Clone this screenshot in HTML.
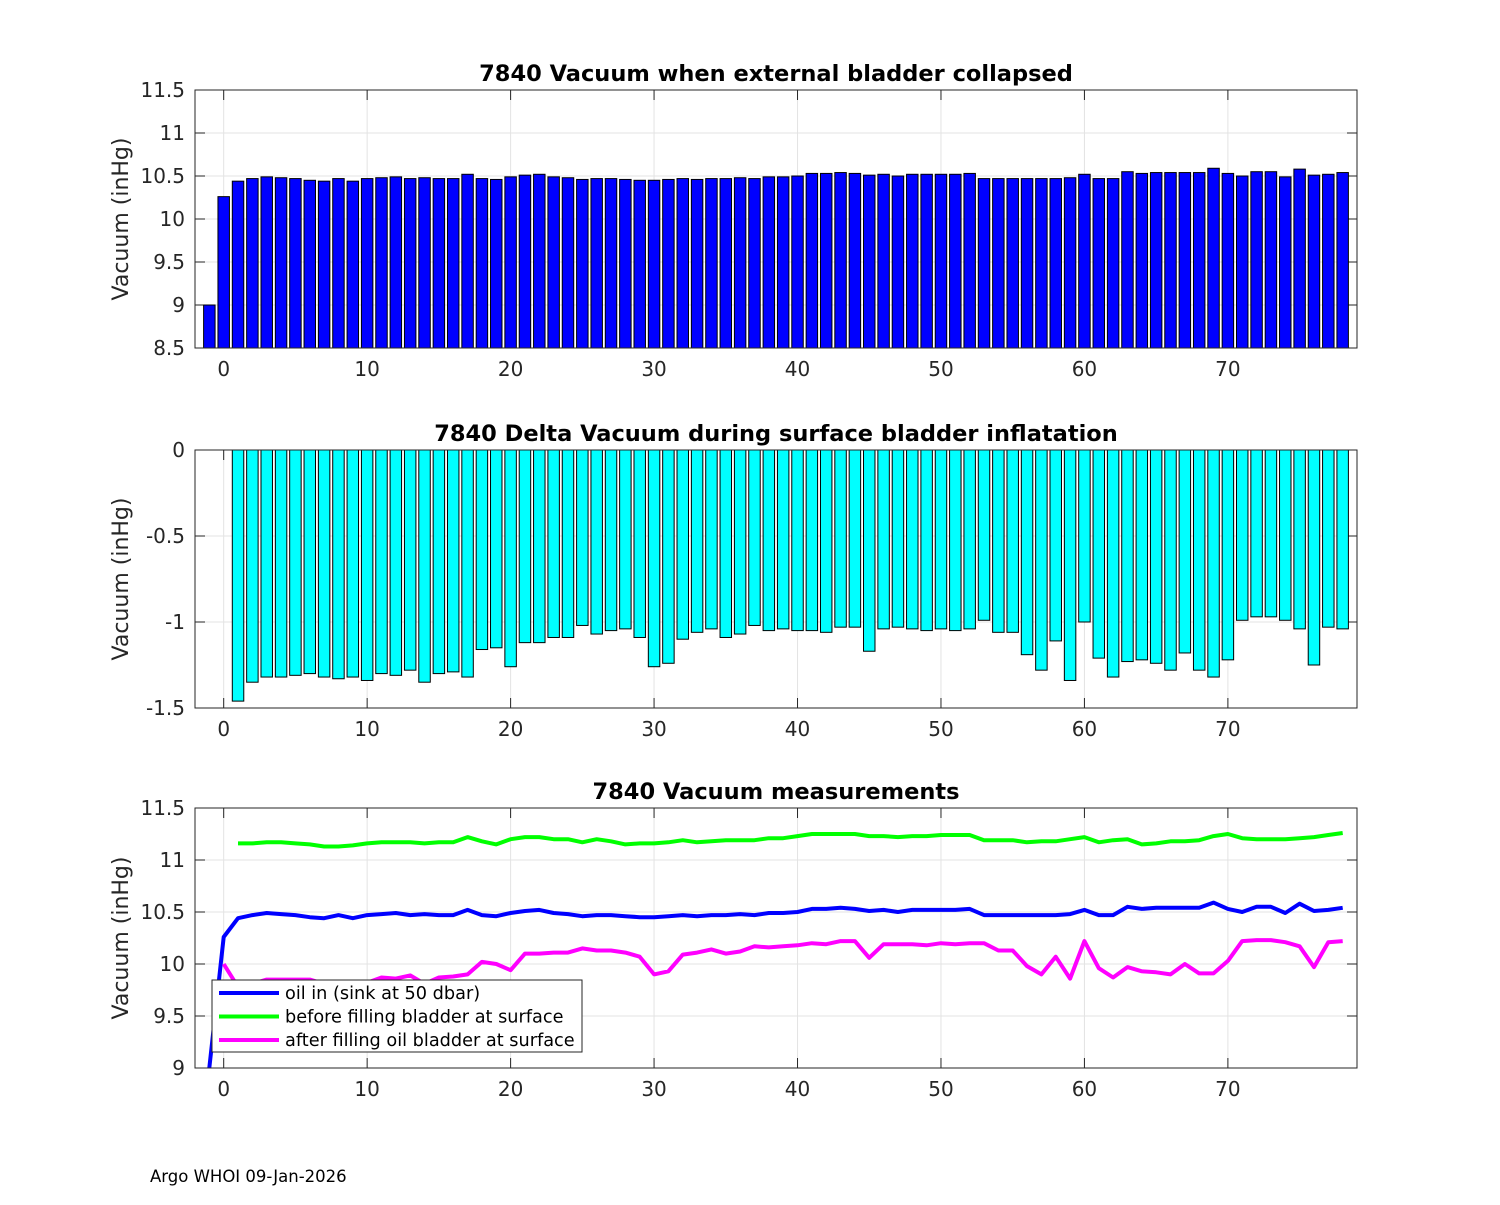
<!DOCTYPE html>
<html><head><meta charset="utf-8"><style>
body{margin:0;background:#fff;}
svg text{font-family:"DejaVu Sans","Liberation Sans",sans-serif;}
</style></head><body>
<svg id="fig" width="1500" height="1200" xmlns="http://www.w3.org/2000/svg">
<rect width="1500" height="1200" fill="#fff"/>
<defs>
<clipPath id="c1"><rect x="195" y="90" width="1162" height="258"/></clipPath>
<clipPath id="c2"><rect x="195" y="450" width="1162" height="258"/></clipPath>
<clipPath id="c3"><rect x="195" y="808" width="1162" height="260"/></clipPath>
</defs>
<text x="150" y="1182" font-size="16.5" fill="#000">Argo WHOI 09-Jan-2026</text>
</svg>
<script>
const xTicks = [0,10,20,30,40,50,60,70];
const vacIdx = [-1,0,1,2,3,4,5,6,7,8,9,10,11,12,13,14,15,16,17,18,19,20,21,22,23,24,25,26,27,28,29,30,31,32,33,34,35,36,37,38,39,40,41,42,43,44,45,46,47,48,49,50,51,52,53,54,55,56,57,58,59,60,61,62,63,64,65,66,67,68,69,70,71,72,73,74,75,76,77,78];
const vacVals = [9.0,10.26,10.44,10.47,10.49,10.48,10.47,10.45,10.44,10.47,10.44,10.47,10.48,10.49,10.47,10.48,10.47,10.47,10.52,10.47,10.46,10.49,10.51,10.52,10.49,10.48,10.46,10.47,10.47,10.46,10.45,10.45,10.46,10.47,10.46,10.47,10.47,10.48,10.47,10.49,10.49,10.5,10.53,10.53,10.54,10.53,10.51,10.52,10.5,10.52,10.52,10.52,10.52,10.53,10.47,10.47,10.47,10.47,10.47,10.47,10.48,10.52,10.47,10.47,10.55,10.53,10.54,10.54,10.54,10.54,10.59,10.53,10.5,10.55,10.55,10.49,10.58,10.51,10.52,10.54];
const dIdx = [1,2,3,4,5,6,7,8,9,10,11,12,13,14,15,16,17,18,19,20,21,22,23,24,25,26,27,28,29,30,31,32,33,34,35,36,37,38,39,40,41,42,43,44,45,46,47,48,49,50,51,52,53,54,55,56,57,58,59,60,61,62,63,64,65,66,67,68,69,70,71,72,73,74,75,76,77,78];
const dVals = [-1.46,-1.35,-1.32,-1.32,-1.31,-1.30,-1.32,-1.33,-1.32,-1.34,-1.30,-1.31,-1.28,-1.35,-1.30,-1.29,-1.32,-1.16,-1.15,-1.26,-1.12,-1.12,-1.09,-1.09,-1.02,-1.07,-1.05,-1.04,-1.09,-1.26,-1.24,-1.10,-1.06,-1.04,-1.09,-1.07,-1.02,-1.05,-1.04,-1.05,-1.05,-1.06,-1.03,-1.03,-1.17,-1.04,-1.03,-1.04,-1.05,-1.04,-1.05,-1.04,-0.99,-1.06,-1.06,-1.19,-1.28,-1.11,-1.34,-1.00,-1.21,-1.32,-1.23,-1.22,-1.24,-1.28,-1.18,-1.28,-1.32,-1.22,-0.99,-0.97,-0.97,-0.99,-1.04,-1.25,-1.03,-1.04];
const beforeVals = [11.16,11.16,11.17,11.17,11.16,11.15,11.13,11.13,11.14,11.16,11.17,11.17,11.17,11.16,11.17,11.17,11.22,11.18,11.15,11.2,11.22,11.22,11.2,11.2,11.17,11.2,11.18,11.15,11.16,11.16,11.17,11.19,11.17,11.18,11.19,11.19,11.19,11.21,11.21,11.23,11.25,11.25,11.25,11.25,11.23,11.23,11.22,11.23,11.23,11.24,11.24,11.24,11.19,11.19,11.19,11.17,11.18,11.18,11.2,11.22,11.17,11.19,11.2,11.15,11.16,11.18,11.18,11.19,11.23,11.25,11.21,11.2,11.2,11.2,11.21,11.22,11.24,11.26];
const afterIdx = [0,1,2,3,4,5,6,7,8,9,10,11,12,13,14,15,16,17,18,19,20,21,22,23,24,25,26,27,28,29,30,31,32,33,34,35,36,37,38,39,40,41,42,43,44,45,46,47,48,49,50,51,52,53,54,55,56,57,58,59,60,61,62,63,64,65,66,67,68,69,70,71,72,73,74,75,76,77,78];
const afterVals = [10.0,9.78,9.81,9.85,9.85,9.85,9.85,9.81,9.80,9.82,9.82,9.87,9.86,9.89,9.81,9.87,9.88,9.90,10.02,10.00,9.94,10.10,10.10,10.11,10.11,10.15,10.13,10.13,10.11,10.07,9.90,9.93,10.09,10.11,10.14,10.10,10.12,10.17,10.16,10.17,10.18,10.20,10.19,10.22,10.22,10.06,10.19,10.19,10.19,10.18,10.20,10.19,10.20,10.20,10.13,10.13,9.98,9.90,10.07,9.86,10.22,9.96,9.87,9.97,9.93,9.92,9.90,10.00,9.91,9.91,10.03,10.22,10.23,10.23,10.21,10.17,9.97,10.21,10.22];
const y1Ticks = [8.5,9,9.5,10,10.5,11,11.5];
const y2Ticks = [-1.5,-1,-0.5,0];
const y3Ticks = [9,9.5,10,10.5,11,11.5];

const NS='http://www.w3.org/2000/svg';
const svg=document.getElementById('fig');
const L=195,R=1357,XMIN=-2,XMAX=79;
const xs=v=>L+(v-XMIN)/(XMAX-XMIN)*(R-L);
function mk(tag,at,parent){const e=document.createElementNS(NS,tag);for(const k in at)e.setAttribute(k,at[k]);(parent||svg).appendChild(e);return e;}
function fmt(v){return String(v);}
function axes(top,bot,ymin,ymax,yT,title,id){
  const ys=v=>bot-(v-ymin)/(ymax-ymin)*(bot-top);
  const g=mk('g',{});
  
  
  mk('rect',{x:L,y:top,width:R-L,height:bot-top,fill:'#fff'},g);
  xTicks.forEach(t=>{const x=xs(t);
    const gl=mk('line',{x1:x,x2:x,y1:top,y2:bot,stroke:'#e3e3e3','stroke-width':1},g);
    
    mk('line',{x1:x,x2:x,y1:bot,y2:bot-10,stroke:'#262626'},g);mk('line',{x1:x,x2:x,y1:top,y2:top+10,stroke:'#262626'},g);
    const tx=mk('text',{x:x,y:bot+28,'font-size':20,'text-anchor':'middle',fill:'#262626'},g);tx.textContent=fmt(t);
    });
  yT.forEach(t=>{const y=ys(t);
    const gl=mk('line',{x1:L,x2:R,y1:y,y2:y,stroke:'#e3e3e3','stroke-width':1},g);
    
    mk('line',{x1:L,x2:L+10,y1:y,y2:y,stroke:'#262626'},g);mk('line',{x1:R,x2:R-10,y1:y,y2:y,stroke:'#262626'},g);
    const tx=mk('text',{x:L-10,y:y+7,'font-size':20,'text-anchor':'end',fill:'#262626'},g);tx.textContent=fmt(t);
    });
  const tt=mk('text',{x:(L+R)/2,y:top-9,'font-size':22.5,'font-weight':'bold','text-anchor':'middle',fill:'#000'},g);tt.textContent=title;
  
  const yl=mk('text',{x:0,y:0,'font-size':22,'text-anchor':'middle',fill:'#262626',transform:`translate(${L-67},${(top+bot)/2}) rotate(-90)`},g);yl.textContent='Vacuum (inHg)';
  
  return {ys,g};
}
function frame(top,bot){const f=mk('rect',{x:L,y:top,width:R-L,height:bot-top,fill:'none',stroke:'#262626','stroke-width':1});
  }
const bw=0.8*(R-L)/(XMAX-XMIN);

const p1=axes(90,348,8.5,11.5,y1Ticks,'7840 Vacuum when external bladder collapsed','collapsed');
const g1=mk('g',{'clip-path':'url(#c1)'});
vacIdx.forEach((i,k)=>{const y=p1.ys(vacVals[k]);
  const b=mk('rect',{x:xs(i)-bw/2,y:y,width:bw,height:348-y,fill:'#0000ff',stroke:'#000','stroke-width':1},g1);
  });
frame(90,348);

const p2=axes(450,708,-1.5,0,y2Ticks,'7840 Delta Vacuum during surface bladder inflatation','delta');
const g2=mk('g',{'clip-path':'url(#c2)'});
dIdx.forEach((i,k)=>{const y0=p2.ys(0),y=p2.ys(dVals[k]);
  const b=mk('rect',{x:xs(i)-bw/2,y:y0,width:bw,height:y-y0,fill:'#00ffff',stroke:'#000','stroke-width':1},g2);
  });
frame(450,708);

const p3=axes(808,1068,9,11.5,y3Ticks,'7840 Vacuum measurements','measurements');
const g3=mk('g',{'clip-path':'url(#c3)'});
function line(idx,vals,col,name){const d=idx.map((i,k)=>(k?'L':'M')+xs(i).toFixed(1)+','+p3.ys(vals[k]).toFixed(1)).join('');
  const p=mk('path',{d:d,fill:'none',stroke:col,'stroke-width':4,'stroke-linejoin':'round'},g3);
  }
line(vacIdx,vacVals,'#0000ff','line-oil-in');
line(dIdx,beforeVals,'#00ff00','line-before-filling');
line(afterIdx,afterVals,'#ff00ff','line-after-filling');
frame(808,1068);

const lg=mk('g',{});


mk('rect',{x:212,y:980,width:370,height:72,fill:'#fff',stroke:'#262626','stroke-width':1},lg);
[['oil in (sink at 50 dbar)','#0000ff'],['before filling bladder at surface','#00ff00'],['after filling oil bladder at surface','#ff00ff']].forEach((e,k)=>{
  const y=993+k*23.5;
  const it=mk('g',{},lg);
  
  
  mk('line',{x1:219,x2:279,y1:y,y2:y,stroke:e[1],'stroke-width':4},it);
  const t=mk('text',{x:285,y:y+6,'font-size':17.7,fill:'#000'},it);t.textContent=e[0];});
</script>
</body></html>
